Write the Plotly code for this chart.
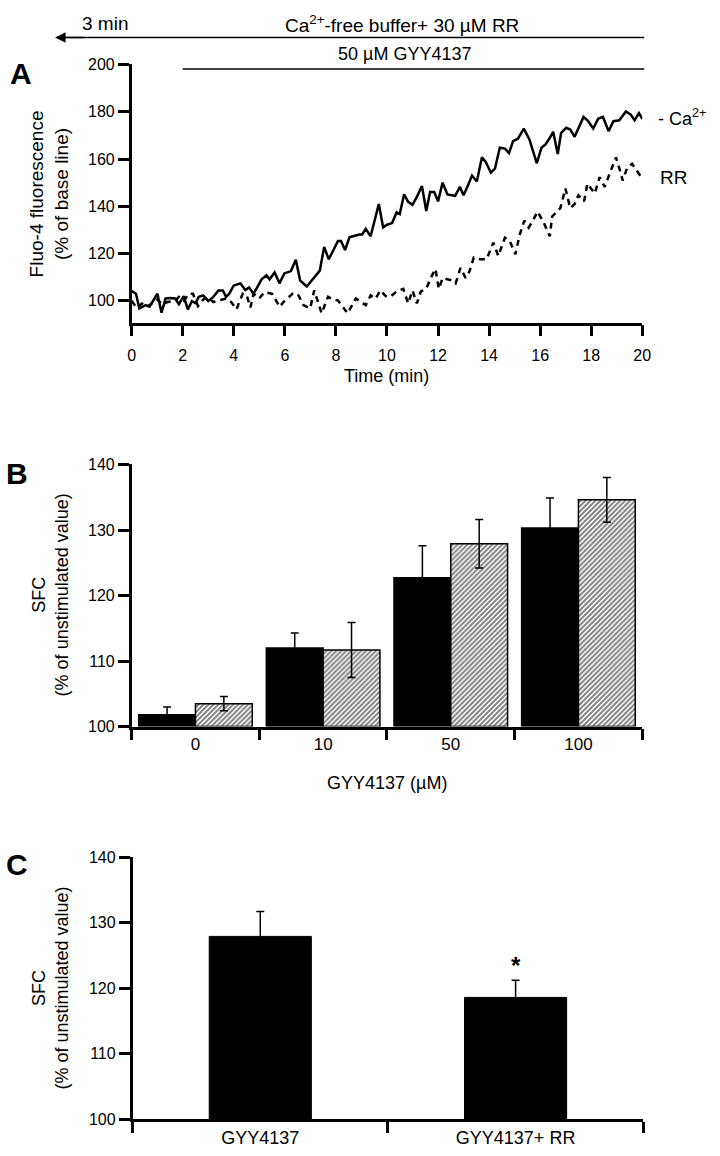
import plotly.graph_objects as go

# ---- data ----
# panel A: Fluo-4 traces, time (min) / % of base line
t_ca = [0.0, 0.17, 0.3, 0.43, 0.55, 0.7, 0.85, 1.01, 1.17, 1.33, 1.5, 1.7, 1.85, 2.04, 2.2,
        2.36, 2.5, 2.63, 2.8, 3.0, 3.2, 3.4, 3.57, 3.7, 3.82, 4.0, 4.26, 4.45, 4.6, 4.77,
        4.9, 5.09, 5.28, 5.4, 5.6, 5.79, 5.98, 6.24, 6.43, 6.6, 6.86, 7.12, 7.37, 7.54,
        7.72, 7.88, 8.08, 8.2, 8.36, 8.53, 8.71, 8.91, 9.03, 9.17, 9.36, 9.51, 9.68, 9.85,
        10.0, 10.2, 10.38, 10.5, 10.67, 10.83, 11.0, 11.17, 11.37, 11.54, 11.69, 11.85,
        12.0, 12.18, 12.37, 12.55, 12.67, 12.86, 13.0, 13.18, 13.33, 13.52, 13.72, 13.87,
        14.07, 14.23, 14.42, 14.62, 14.78, 14.94, 15.13, 15.36, 15.58, 15.7, 15.87, 16.05,
        16.21, 16.38, 16.51, 16.69, 16.82, 17.02, 17.18, 17.35, 17.5, 17.7, 17.88, 18.08,
        18.27, 18.46, 18.68, 18.87, 19.1, 19.36, 19.55, 19.7, 19.87, 20.0]
v_ca = [104.2, 103, 96.8, 97.5, 98.2, 97.5, 100, 103, 95, 101, 101.2, 101, 98.6, 102, 96.4,
        99.9, 99.1, 101.7, 102.3, 99.9, 101.7, 104.4, 104.4, 101.7, 103, 106.5, 107.4, 104.6,
        105.7, 103, 105.4, 109.1, 110.8, 109.1, 112, 107.4, 111.6, 112.6, 117.4, 108.6, 106.1,
        109.3, 112.8, 122.8, 117.6, 121, 125.3, 125.3, 121.5, 126.9, 127.6, 128.1, 128.1,
        130.5, 127.3, 133.6, 141, 131.1, 132.2, 132.9, 137.5, 136.7, 145, 141.9, 140.6, 144,
        148.6, 138, 146.1, 146.1, 142.1, 150, 145, 144.7, 144.4, 148.2, 144.7, 149, 153,
        150.5, 160.7, 158.8, 154.2, 155.9, 164.8, 164.4, 162.5, 167.6, 168.6, 172.9, 168.3,
        164.1, 158.2, 164.8, 166.2, 169, 171.5, 162.1, 171, 173.2, 172.5, 169.4, 173.2, 177.8,
        176, 172.9, 177, 177.8, 171.8, 176, 176.4, 180.1, 178.8, 176.4, 179.4, 177]

t_rr = [0.0, 0.2, 0.4, 0.6, 0.8, 1.0, 1.2, 1.4, 1.7, 1.85, 2.05, 2.23, 2.4, 2.6, 2.8, 3.0,
        3.2, 3.45, 3.7, 3.9, 4.1, 4.35, 4.5, 4.65, 4.78, 5.0, 5.2, 5.5, 5.8, 5.98, 6.3, 6.5,
        6.73, 6.99, 7.15, 7.28, 7.44, 7.69, 7.9, 8.08, 8.3, 8.46, 8.78, 9.0, 9.17, 9.36, 9.55,
        9.74, 9.95, 10.13, 10.38, 10.64, 10.83, 11.0, 11.17, 11.33, 11.54, 11.73, 11.9, 12.03,
        12.18, 12.4, 12.56, 12.69, 12.88, 13.08, 13.23, 13.4, 13.65, 13.9, 14.17, 14.36, 14.62,
        14.81, 15.03, 15.2, 15.38, 15.55, 15.7, 15.9, 16.15, 16.38, 16.47, 16.79, 16.99, 17.18,
        17.35, 17.5, 17.72, 17.85, 18.14, 18.33, 18.53, 18.72, 18.97, 19.17, 19.23, 19.42,
        19.6, 19.74, 20.0]
v_rr = [100, 97, 98.9, 97.5, 99, 100.5, 98.5, 99.5, 100, 101.7, 100, 103, 103, 97.8, 100.5,
        101.7, 99.5, 100.3, 101, 99.5, 96.4, 103, 102.6, 97.2, 103, 101, 103.7, 103, 97.5, 99.9,
        103, 103, 98.2, 96.8, 104.4, 100.2, 94.7, 101.7, 100.5, 100.2, 97, 94.7, 101, 99.5, 98.2,
        102.3, 100.9, 104.4, 102, 101.7, 104, 105.1, 98.9, 104.4, 98.9, 104, 105.1, 110, 113.5,
        105.1, 109.7, 109, 108.6, 107.4, 113.9, 109.7, 112.4, 118.3, 117.6, 117.6, 124.6, 119,
        126.7, 125.3, 119.7, 128, 133.9, 131, 133.6, 137.8, 132.9, 127.3, 135.7, 139.2, 147.5,
        139.2, 141, 144.7, 142.1, 149.6, 145.4, 152.3, 148.2, 153.7, 160.7, 153.7, 150.9, 156.5,
        158, 155.8, 151.7]

# protocol bars above panel A (min)
arrow_start = -3
gyy_start = 2
t_end = 20

# panel B
doses = ["0", "10", "50", "100"]
solid_vals = [101.8, 112.0, 122.7, 130.3]
solid_err = [1.2, 2.3, 4.9, 4.6]
hatched_vals = [103.5, 111.7, 127.9, 134.6]
hatched_err = [1.1, 4.2, 3.7, 3.4]

# panel C
groups_c = ["GYY4137", "GYY4137+ RR"]
vals_c = [127.9, 118.6]
err_c = [3.8, 2.6]

W, H = 720, 1156
FONT = "Liberation Sans, Arial, sans-serif"


def px(x):
    return x / W


def py(y):
    return 1 - y / H


# panel A x mapping (0 min at 130 px, 20 min at 650 px)
def tx(t):
    return 130 + 26 * t


fig = go.Figure()

fig.add_trace(go.Scatter(x=t_ca, y=v_ca, mode="lines", line=dict(color="black", width=2.5),
                         xaxis="x", yaxis="y", hoverinfo="skip"))
fig.add_trace(go.Scatter(x=t_rr, y=v_rr, mode="lines",
                         line=dict(color="black", width=2.5, dash="6px,5px"),
                         xaxis="x", yaxis="y", hoverinfo="skip"))

fig.add_trace(go.Bar(x=doses, y=[v - 100 for v in solid_vals], base=100,
                     marker=dict(color="black", line=dict(color="black", width=1.5)),
                     error_y=dict(type="data", array=solid_err, color="black", thickness=1.5, width=4),
                     xaxis="x2", yaxis="y2"))
fig.add_trace(go.Bar(x=doses, y=[v - 100 for v in hatched_vals], base=100,
                     marker=dict(color="white", line=dict(color="black", width=1.5),
                                 pattern=dict(shape="/", fgcolor="black", bgcolor="white",
                                              size=3.5, solidity=0.55)),
                     error_y=dict(type="data", array=hatched_err, color="black", thickness=1.5, width=4),
                     xaxis="x2", yaxis="y2"))

fig.add_trace(go.Bar(x=groups_c, y=[v - 100 for v in vals_c], base=100, width=0.4,
                     marker=dict(color="black", line=dict(color="black", width=1)),
                     error_y=dict(type="data", array=err_c, color="black", thickness=1.5, width=4),
                     xaxis="x3", yaxis="y3"))

axis_common = dict(showline=True, linecolor="black", linewidth=2.5, ticks="outside",
                   ticklen=11, tickwidth=2.5, tickcolor="black", showgrid=False,
                   zeroline=False, tickfont=dict(family=FONT, size=16, color="black"))

fig.update_layout(
    width=W, height=H,
    margin=dict(l=0, r=0, t=0, b=0),
    paper_bgcolor="white", plot_bgcolor="white",
    showlegend=False, barmode="group", bargap=0.11, bargroupgap=0,
    font=dict(family=FONT, color="black"),
    xaxis=dict(domain=[px(130), px(650)], range=[0, 20], tickvals=list(range(0, 21, 2)),
               anchor="y", ticklabelstandoff=5, **axis_common),
    yaxis=dict(domain=[py(319.3), py(57.3)], range=[90.8, 200], tickvals=list(range(100, 201, 20)),
               anchor="x", **axis_common),
    xaxis2=dict(domain=[px(130), px(650)], type="category", tickson="boundaries",
                anchor="y2", **axis_common),
    yaxis2=dict(domain=[py(729.3), py(463.3)], range=[100, 140], dtick=10,
                anchor="x2", **axis_common),
    xaxis3=dict(domain=[px(131), px(651)], type="category", tickson="boundaries",
                anchor="y3", **axis_common),
    yaxis3=dict(domain=[py(1128), py(861.7)], range=[100, 140], dtick=10,
                anchor="x3", **axis_common),
)
fig.update_layout(xaxis2_tickfont_size=17, xaxis3_tickfont_size=18)


def note(text, x, y, size=18, xanchor="center", yanchor="middle", **kw):
    fig.add_annotation(text=text, x=px(x), y=py(y), xref="paper", yref="paper",
                       xanchor=xanchor, yanchor=yanchor, showarrow=False,
                       font=dict(family=FONT, size=size, color="black"), **kw)


# protocol lines
fig.add_shape(type="line", xref="paper", yref="paper", x0=px(tx(arrow_start) + 8), x1=px(tx(t_end) + 2),
              y0=py(30), y1=py(30), line=dict(color="black", width=1.5))
fig.add_annotation(x=px(tx(arrow_start)), y=py(30), xref="paper", yref="paper",
                   ax=30, ay=0, axref="pixel", ayref="pixel", text="", showarrow=True,
                   arrowhead=2, arrowsize=1.4, arrowwidth=1.5, arrowcolor="black")
fig.add_shape(type="line", xref="paper", yref="paper", x0=px(tx(gyy_start)), x1=px(tx(t_end) + 2),
              y0=py(62), y1=py(62), line=dict(color="black", width=1.5))
note("3 min", 103, 16, size=19)
note("Ca<sup>2+</sup>-free buffer+ 30 µM RR", 405, 16, size=19)
note("50 µM GYY4137", 408, 47, size=18)

# trace labels
note("- Ca<sup>2+</sup>", 664, 111, size=18, xanchor="left")
note("RR", 666, 172, size=19, xanchor="left")

# panel letters
note("<b>A</b>", 17, 66, size=30)
note("<b>B</b>", 13, 472, size=30)
note("<b>C</b>", 13, 869, size=30)

# axis titles
note("Fluo-4 fluorescence<br>(% of base line)", 46, 189, size=19, textangle=-90)
note("Time (min)", 390, 374, size=18)
note("SFC<br>(% of unstimulated value)", 47, 596, size=18, textangle=-90)
note("GYY4137 (µM)", 390, 787, size=18)
note("SFC<br>(% of unstimulated value)", 47, 995, size=18, textangle=-90)

# significance mark
note("<b>*</b>", 521, 972, size=24)

fig.write_html("out.html", config={"displayModeBar": False},
               post_script="document.body.style.margin='0';")
